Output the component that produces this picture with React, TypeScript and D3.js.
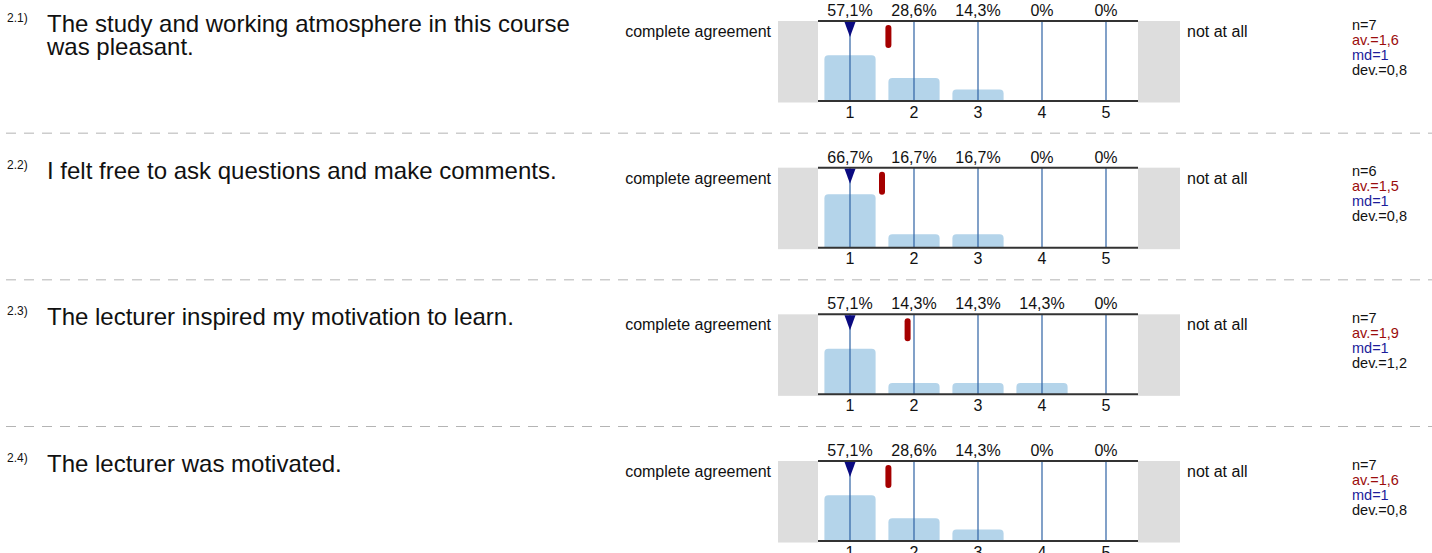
import React from "react";
import * as d3 from "d3";

const questionNumbers = ["2.1)", "2.2)", "2.3)", "2.4)"];
const questionTexts = [
  ["The study and working atmosphere in this course", "was pleasant."],
  ["I felt free to ask questions and make comments."],
  ["The lecturer inspired my motivation to learn."],
  ["The lecturer was motivated."],
];
const scaleCategories = ["1", "2", "3", "4", "5"];
const percentages = [
  [57.1, 28.6, 14.3, 0, 0],
  [66.7, 16.7, 16.7, 0, 0],
  [57.1, 14.3, 14.3, 14.3, 0],
  [57.1, 28.6, 14.3, 0, 0],
];
const nValues = [7, 6, 7, 7];
const averages = [1.6, 1.5, 1.9, 1.6];
const medians = [1, 1, 1, 1];
const deviations = [0.8, 0.8, 1.2, 0.8];
const leftPole = "complete agreement";
const rightPole = "not at all";

const W = 1432;
const H = 553;
const FONT = "'Liberation Sans', Arial, Helvetica, sans-serif";
const plotX0 = 818;
const plotX1 = 1138;
const plotH = 80;
const firstTop = 21;
const blockStep = 146.67;

const fmt = (v: number) =>
  v === 0 ? "0%" : d3.format(".1f")(v).replace(".", ",") + "%";
const fmtNum = (v: number) => d3.format(".1f")(v).replace(".", ",");

function roundedTopBar(x: number, y: number, w: number, h: number, r: number) {
  if (h <= 0) return "";
  const rr = Math.min(r, h, w / 2);
  return `M${x},${y + h} L${x},${y + rr} Q${x},${y} ${x + rr},${y} L${x + w - rr},${y} Q${x + w},${y} ${x + w},${y + rr} L${x + w},${y + h} Z`;
}

export default function App() {
  const xBand = d3
    .scaleBand<string>()
    .domain(scaleCategories)
    .range([plotX0, plotX1])
    .paddingInner(0.2)
    .paddingOuter(0.1);
  const xLin = d3
    .scaleLinear()
    .domain([1, 5])
    .range([
      (xBand("1") as number) + xBand.bandwidth() / 2,
      (xBand("5") as number) + xBand.bandwidth() / 2,
    ]);
  const yH = d3.scaleLinear().domain([0, 100]).range([0, plotH]);

  return (
    <svg
      width={W}
      height={H}
      style={{ position: "absolute", left: 0, top: 0, background: "#fff" }}
      fontFamily={FONT}
    >
      {percentages.map((row, qi) => {
        const top = firstTop + qi * blockStep;
        const bottom = top + plotH;
        return (
          <g key={qi}>
            {qi > 0 && (
              <line
                x1={6}
                x2={W}
                y1={top - 34.5}
                y2={top - 34.5}
                stroke="#b4b4b4"
                strokeWidth={1}
                strokeDasharray="10,8"
              />
            )}
            <text x={7} y={top + 1} fontSize={12} fill="#111">
              {questionNumbers[qi]}
            </text>
            {questionTexts[qi].map((line, li) => (
              <text key={li} x={47} y={top + 11 + li * 23} fontSize={24} fill="#111">
                {line}
              </text>
            ))}
            <text x={771} y={top + 16} fontSize={16} fill="#111" textAnchor="end">
              {leftPole}
            </text>
            <text x={1187} y={top + 16} fontSize={16} fill="#111">
              {rightPole}
            </text>
            <rect x={778} y={top} width={plotX0 - 778} height={plotH + 1.5} fill="#dddddd" />
            <rect x={plotX1} y={top} width={1180 - plotX1} height={plotH + 1.5} fill="#dddddd" />
            {row.map((v, i) => (
              <path
                key={i}
                d={roundedTopBar(
                  xBand(scaleCategories[i]) as number,
                  bottom - yH(v),
                  xBand.bandwidth(),
                  yH(v),
                  4
                )}
                fill="#b4d4ea"
              />
            ))}
            {scaleCategories.map((c, i) => {
              const cx = (xBand(c) as number) + xBand.bandwidth() / 2;
              return (
                <g key={c}>
                  <line x1={cx} x2={cx} y1={top} y2={bottom} stroke="#2e62a3" strokeWidth={1.2} />
                  <text x={cx} y={top - 5} fontSize={16} textAnchor="middle" fill="#111">
                    {fmt(row[i])}
                  </text>
                  <text x={cx} y={bottom + 16.5} fontSize={16} textAnchor="middle" fill="#111">
                    {c}
                  </text>
                </g>
              );
            })}
            <line x1={plotX0} x2={plotX1} y1={top} y2={top} stroke="#333" strokeWidth={2} />
            <line x1={plotX0} x2={plotX1} y1={bottom} y2={bottom} stroke="#333" strokeWidth={2} />
            {(() => {
              const mx = xLin(medians[qi]);
              return (
                <path
                  d={`M${mx - 5.5},${top + 1} L${mx + 5.5},${top + 1} L${mx},${top + 16} Z`}
                  fill="#0a0a80"
                />
              );
            })()}
            <rect
              x={xLin(averages[qi]) - 3}
              y={top + 4}
              width={6}
              height={23}
              rx={3}
              fill="#a50000"
            />
            <text x={1352} y={top + 8.5} fontSize={14.5} fill="#111">
              {"n=" + nValues[qi]}
            </text>
            <text x={1352} y={top + 23.5} fontSize={14.5} fill="#9b0c0c">
              {"av.=" + fmtNum(averages[qi])}
            </text>
            <text x={1352} y={top + 38.5} fontSize={14.5} fill="#1c1c9a">
              {"md=" + medians[qi]}
            </text>
            <text x={1352} y={top + 53.5} fontSize={14.5} fill="#111">
              {"dev.=" + fmtNum(deviations[qi])}
            </text>
          </g>
        );
      })}
    </svg>
  );
}
